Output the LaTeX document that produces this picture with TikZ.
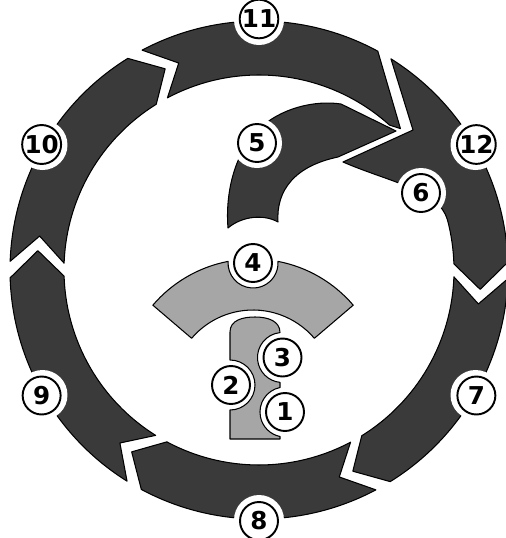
\documentclass[tikz,border=0pt]{standalone}
\usepackage{fontspec}
\setsansfont{DejaVu Sans}
\definecolor{ringgray}{HTML}{3A3A3A}
\definecolor{stemgray}{HTML}{A6A6A6}
\begin{document}
\begin{tikzpicture}[x=0.02cm, y=-0.02cm,
    ringpiece/.style={fill=ringgray, draw=black, line width=0.6pt, line join=round},
    tpiece/.style={fill=stemgray, draw=black, line width=0.6pt, line join=round},
    halo/.style={fill=white},
    num/.style={circle, draw=black, line width=1.1pt, fill=white, minimum size=0.76cm, inner sep=0pt,
        font=\sffamily\bfseries\fontsize{14}{16}\selectfont}]
    \useasboundingbox (0,0) rectangle (506,538);

    % outer ring of arrows
    \begin{scope}[shift={(259,270)}]
        \foreach \a in {0,60,120,180}
            \filldraw[ringpiece] (\a+2:249) arc[start angle=\a+2, end angle=\a+58.2, radius=249]
                -- (\a+65:222) -- (\a+58.2:195) arc[start angle=\a+58.2, end angle=\a+2, radius=195]
                -- (\a+8.8:222) -- cycle;
        % top arrow, its tip runs inward
        \filldraw[ringpiece] (242:249) arc[start angle=242, end angle=298.5, radius=249]
            -- (315:200) -- (312:195) arc[start angle=312, end angle=242, radius=195]
            -- (248.8:222) -- cycle;
        % right arrow with the inner branch
        \filldraw[ringpiece] (302:249) arc[start angle=302, end angle=358.2, radius=249]
            -- (365:222) -- (358.2:195) arc[start angle=358.2, end angle=345, radius=195]
            .. controls (180,-80) and (130,-88) .. (84,-108) -- (154,-140) -- cycle;
        \foreach \a in {30,90,150,210,270,330}
            \fill[halo] (\a:250) circle[radius=25];
    \end{scope}

    % hook
    \filldraw[ringpiece] (396,131) -- (341,104) .. controls (315,100) and (280,108) .. (258,130)
        .. controls (236,152) and (225,190) .. (228,228)
        .. controls (242,216) and (264,214) .. (278,222)
        .. controls (276,190) and (295,166) .. (338,157) -- cycle;
    \fill[halo] (257,143) circle[radius=25];
    \fill[halo] (421,193) circle[radius=25];

    % light arc
    \begin{scope}[shift={(253,390.7)}]
        \filldraw[tpiece] (220.5:131.7) arc[start angle=220.5, end angle=259.1, radius=131.7]
            arc[start angle=183.7, end angle=-3.7, radius=25]
            arc[start angle=280.9, end angle=319.5, radius=131.7]
            -- (319.5:80.7) arc[start angle=319.5, end angle=220.5, radius=80.7] -- cycle;
    \end{scope}

    % light stem
    \filldraw[tpiece] (230,439) -- (230,410) arc[start angle=90, end angle=-90, radius=25]
        -- (230,332) .. controls (230,320) and (243,317) .. (255,317)
        .. controls (268,317) and (280,321) .. (280,332.6)
        arc[start angle=264.3, end angle=95.7, radius=25] -- (280,387.5)
        arc[start angle=258.5, end angle=101.5, radius=25] -- (280,439) -- cycle;

    % labels
    \begin{scope}[shift={(259,270)}]
        \foreach \n/\a in {7/30, 8/90, 9/150, 10/210, 11/270, 12/330}
            \node[num] (n\n) at (\a:251) {\n};
    \end{scope}
    \node[num] (n1) at (285,412) {1};
    \node[num] (n2) at (231,385) {2};
    \node[num] (n3) at (282.5,357.5) {3};
    \node[num] (n4) at (253,263) {4};
    \node[num] (n5) at (257,143) {5};
    \node[num] (n6) at (421,193) {6};
\end{tikzpicture}
\end{document}
